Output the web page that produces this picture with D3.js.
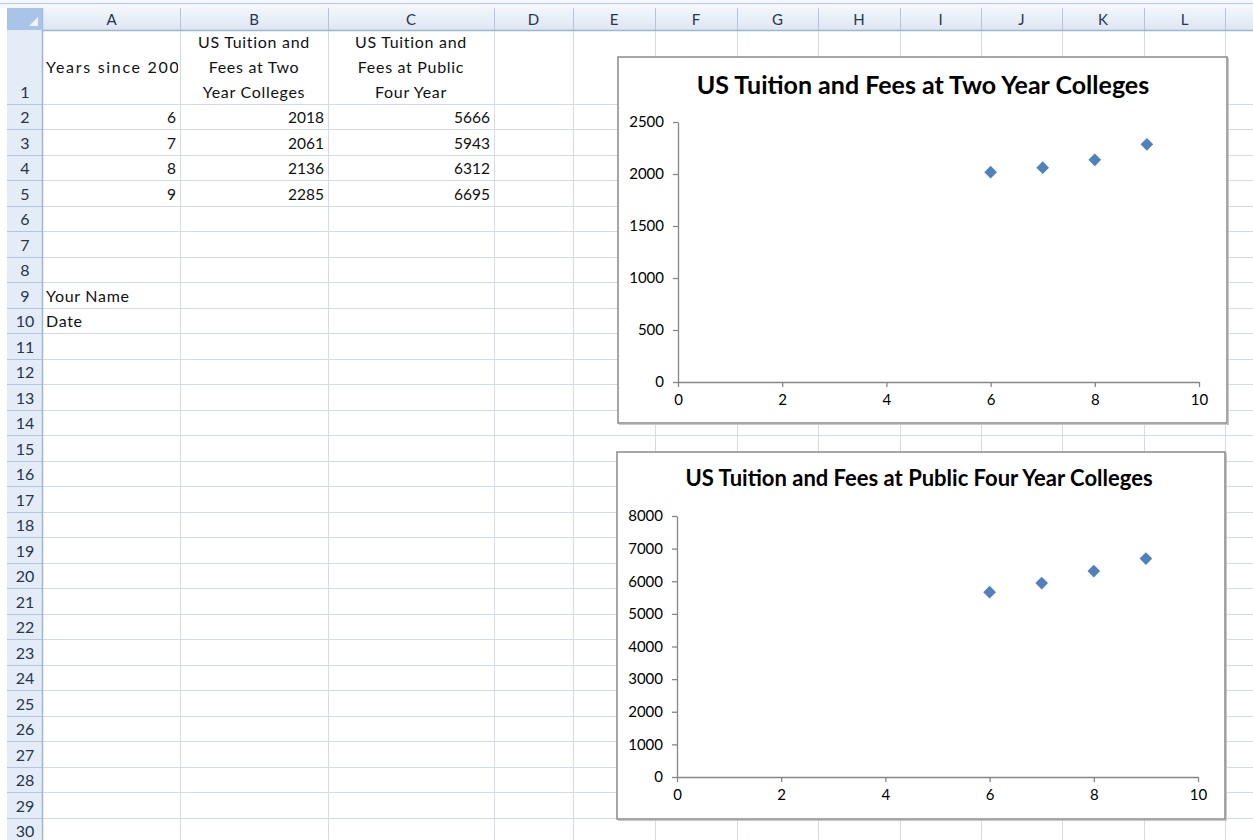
<!DOCTYPE html>
<html>
<head>
<meta charset="utf-8">
<script src="https://cdn.jsdelivr.net/npm/d3@7"></script>
<style>
  html, body { margin: 0; padding: 0; background: #fff; }
  svg { display: block; }
  text { font-family: Lato, "Noto Sans", sans-serif; }
</style>
</head>
<body>
<div id="sheet"></div>
<script>
// sheet data
let columnLetters = ['A','B','C','D','E','F','G','H','I','J','K','L']
let headerA = 'Years since 2000'
let headerB = ['US Tuition and', 'Fees at Two', 'Year Colleges']
let headerC = ['US Tuition and', 'Fees at Public', 'Four Year']
let years = [6, 7, 8, 9]
let twoYear = [2018, 2061, 2136, 2285]
let fourYear = [5666, 5943, 6312, 6695]
let extraLabels = [{row: 9, text: 'Your Name'}, {row: 10, text: 'Date'}]

// chart axes
let xTicks = [0, 2, 4, 6, 8, 10]
let yTicksTwo = [0, 500, 1000, 1500, 2000, 2500]
let yTicksFour = [0, 1000, 2000, 3000, 4000, 5000, 6000, 7000, 8000]
let titleTwo = 'US Tuition and Fees at Two Year Colleges'
let titleFour = 'US Tuition and Fees at Public Four Year Colleges'

let width = 1253, height = 840

let svg = d3.select('#sheet').append('svg')
    .attr('width', width)
    .attr('height', height)

// column edges (x) and rows
let colEdges = [43, 180, 328, 494, 573, 655, 737, 818, 900, 981, 1062, 1144, 1225]
let headTop = 8, headBottom = 30, row1Bottom = 103.5, rowH = 25.5
function rowBottom(r){ return r == 1 ? row1Bottom : row1Bottom + (r - 1) * rowH }
let rows = d3.range(1, 31)

let defs = svg.append('defs')
let hg = defs.append('linearGradient').attr('id', 'head-grad')
    .attr('x1', '0%').attr('y1', '0%').attr('x2', '0%').attr('y2', '100%')
hg.append('stop').attr('offset', '0%').attr('stop-color', '#f2f6fb')
hg.append('stop').attr('offset', '100%').attr('stop-color', '#dce6f3')

// top strip
svg.append('rect').attr('x', 0).attr('y', 0).attr('width', width).attr('height', headTop)
    .attr('fill', '#f4f7fb')
svg.append('line').attr('x1', 0).attr('x2', width).attr('y1', 3.5).attr('y2', 3.5)
    .attr('stroke', '#b8c9df')

// grid lines
let grid = svg.append('g')
grid.selectAll('.hline')
    .data(rows)
    .enter()
    .append('line')
    .attr('x1', colEdges[0]).attr('x2', width)
    .attr('y1', function(d){ return Math.round(rowBottom(d)) + 0.5 })
    .attr('y2', function(d){ return Math.round(rowBottom(d)) + 0.5 })
    .attr('stroke', '#d4dbe8')
grid.selectAll('.vline')
    .data(colEdges.slice(1))
    .enter()
    .append('line')
    .attr('x1', function(d){ return d + 0.5 }).attr('x2', function(d){ return d + 0.5 })
    .attr('y1', headBottom).attr('y2', height)
    .attr('stroke', '#d4dbe8')

// column headers
svg.append('rect').attr('x', colEdges[0]).attr('y', headTop)
    .attr('width', width - colEdges[0]).attr('height', headBottom - headTop)
    .attr('fill', 'url(#head-grad)')
svg.selectAll('.colsep')
    .data(colEdges.slice(1))
    .enter()
    .append('line')
    .attr('x1', function(d){ return d + 0.5 }).attr('x2', function(d){ return d + 0.5 })
    .attr('y1', headTop).attr('y2', headBottom)
    .attr('stroke', '#b3c5dc')
svg.append('line').attr('x1', 7).attr('x2', width).attr('y1', headBottom + 0.5).attr('y2', headBottom + 0.5)
    .attr('stroke', '#9eb6ce').attr('stroke-width', 1.5)
svg.selectAll('.colletter')
    .data(columnLetters)
    .enter()
    .append('text')
    .attr('x', function(d, i){ return (colEdges[i] + colEdges[i + 1]) / 2 })
    .attr('y', 25)
    .attr('text-anchor', 'middle')
    .attr('font-size', 15)
    .attr('fill', '#27364d')
    .text(function(d){ return d })

// row headers
svg.append('rect').attr('x', 7).attr('y', headBottom)
    .attr('width', colEdges[0] - 7).attr('height', height - headBottom)
    .attr('fill', '#e4ecf7')
svg.selectAll('.rowsep')
    .data(rows)
    .enter()
    .append('line')
    .attr('x1', 7).attr('x2', colEdges[0])
    .attr('y1', function(d){ return Math.round(rowBottom(d)) + 0.5 })
    .attr('y2', function(d){ return Math.round(rowBottom(d)) + 0.5 })
    .attr('stroke', '#b3c5dc')
svg.append('line').attr('x1', colEdges[0] - 0.5).attr('x2', colEdges[0] - 0.5)
    .attr('y1', headTop).attr('y2', height)
    .attr('stroke', '#9eb6ce').attr('stroke-width', 1.5)
svg.selectAll('.rownum')
    .data(rows)
    .enter()
    .append('text')
    .attr('x', 25)
    .attr('y', function(d){ return rowBottom(d) - 6 })
    .attr('text-anchor', 'middle')
    .attr('font-size', 16)
    .attr('fill', '#27364d')
    .text(function(d){ return d })

// corner
svg.append('rect').attr('x', 7).attr('y', headTop).attr('width', colEdges[0] - 7.5).attr('height', headBottom - headTop)
    .attr('fill', '#a9c4e8')
svg.append('path').attr('d', 'M38,26 L38,17 L29,26 Z').attr('fill', '#eef3fa')

// cells
let cells = svg.append('g').attr('font-size', 16).attr('fill', '#111')

defs.append('clipPath').attr('id', 'clipA')
    .append('rect').attr('x', colEdges[0]).attr('y', headBottom)
    .attr('width', colEdges[1] - colEdges[0] - 2).attr('height', row1Bottom - headBottom)

cells.append('text')
    .attr('x', colEdges[0] + 3)
    .attr('y', 73)
    .attr('letter-spacing', 1.7)
    .attr('clip-path', 'url(#clipA)')
    .text(headerA)

cells.selectAll('.hb')
    .data(headerB)
    .enter()
    .append('text')
    .attr('x', (colEdges[1] + colEdges[2]) / 2)
    .attr('y', function(d, i){ return 48 + i * 25 })
    .attr('text-anchor', 'middle')
    .attr('letter-spacing', 0.7)
    .text(function(d){ return d })

cells.selectAll('.hc')
    .data(headerC)
    .enter()
    .append('text')
    .attr('x', (colEdges[2] + colEdges[3]) / 2)
    .attr('y', function(d, i){ return 48 + i * 25 })
    .attr('text-anchor', 'middle')
    .attr('letter-spacing', 0.7)
    .text(function(d){ return d })

let dataCols = [years, twoYear, fourYear]
dataCols.forEach(function(col, c){
    cells.selectAll('.num' + c)
        .data(col)
        .enter()
        .append('text')
        .attr('x', colEdges[c + 1] - 4)
        .attr('y', function(d, i){ return rowBottom(i + 2) - 6 })
        .attr('text-anchor', 'end')
        .attr('font-size', 15.5)
        .text(function(d){ return d })
})

cells.selectAll('.extra')
    .data(extraLabels)
    .enter()
    .append('text')
    .attr('x', colEdges[0] + 3)
    .attr('y', function(d){ return rowBottom(d.row) - 6 })
    .attr('letter-spacing', 0.7)
    .text(function(d){ return d.text })

// charts
function drawChart(opt){
    let g = svg.append('g')

    g.append('rect')
        .attr('x', opt.box[0] + 1.5).attr('y', opt.box[1] + 1.5)
        .attr('width', opt.box[2]).attr('height', opt.box[3])
        .attr('fill', 'none').attr('stroke', '#c8c8c8').attr('stroke-width', 1)
    g.append('rect')
        .attr('x', opt.box[0]).attr('y', opt.box[1])
        .attr('width', opt.box[2]).attr('height', opt.box[3])
        .attr('fill', '#fff').attr('stroke', '#8a8a8a').attr('stroke-width', 1.5)

    g.append('text')
        .attr('x', opt.titleX).attr('y', opt.titleY)
        .attr('text-anchor', 'middle')
        .attr('font-weight', 'bold')
        .attr('font-size', opt.titleSize)
        .attr('fill', '#000')
        .text(opt.title)

    let x = d3.scaleLinear().domain([0, 10]).range([opt.plot[0], opt.plot[1]])
    let y = d3.scaleLinear().domain([0, opt.yMax]).range([opt.plot[2], opt.plot[3]])

    let xAxis = g.append('g')
        .attr('transform', 'translate(0,' + opt.plot[2] + ')')
        .call(d3.axisBottom(x).tickValues(xTicks).tickSize(5).tickSizeOuter(0).tickPadding(7))
    let yAxis = g.append('g')
        .attr('transform', 'translate(' + opt.plot[0] + ',0)')
        .call(d3.axisLeft(y).tickValues(opt.yTicks).tickFormat(d3.format('d'))
            .tickSize(5).tickSizeOuter(0).tickPadding(9))

    ;[xAxis, yAxis].forEach(function(a){
        a.select('.domain').attr('stroke', '#868686').attr('stroke-width', 1.3)
        a.selectAll('.tick line').attr('stroke', '#868686').attr('stroke-width', 1.3)
        a.selectAll('.tick text')
            .attr('font-family', 'Lato, sans-serif')
            .attr('font-size', 15)
            .attr('fill', '#000')
    })

    let sym = d3.symbol().type(d3.symbolSquare).size(80)
    g.selectAll('.pt')
        .data(opt.xs)
        .enter()
        .append('path')
        .attr('d', sym)
        .attr('transform', function(d, i){
            return 'translate(' + x(d) + ',' + y(opt.ys[i]) + ') rotate(45)'
        })
        .attr('fill', '#4f81bd')
}

drawChart({
    box: [618, 57, 609, 366],
    plot: [678, 1199, 382, 122],
    yMax: 2500,
    yTicks: yTicksTwo,
    title: titleTwo,
    titleX: 923,
    titleY: 94,
    titleSize: 25,
    xs: years,
    ys: twoYear
})

drawChart({
    box: [617, 452, 608, 367],
    plot: [677, 1198, 777, 516],
    yMax: 8000,
    yTicks: yTicksFour,
    title: titleFour,
    titleX: 919,
    titleY: 486,
    titleSize: 22,
    xs: years,
    ys: fourYear
})
</script>
</body>
</html>
